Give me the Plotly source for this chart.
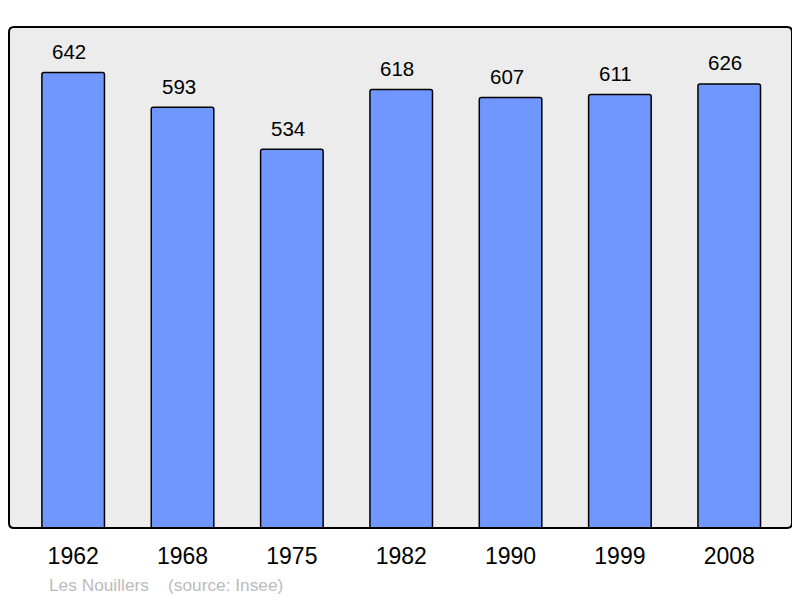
import plotly.graph_objects as go

years = ["1962", "1968", "1975", "1982", "1990", "1999", "2008"]
population = [642, 593, 534, 618, 607, 611, 626]
footer_text = "Les Nouillers    (source: Insee)"

# page body has an 8px margin; figure coords = window coords - 8
OFF = 8
W, H = 800 - OFF, 598 - OFF
L, R, T, B = 9 - OFF, 8, 27 - OFF, 70
pw, ph = W - L - R, H - T - B

fig = go.Figure()
fig.add_trace(go.Bar(
    x=list(range(len(years))), y=population, width=0.572,
    marker=dict(color="#7096ff", line=dict(color="black", width=1.5), cornerradius=2),
    hovertext=years, hoverinfo="text+y",
))

for i, v in enumerate(population):
    fig.add_annotation(x=i, y=v, xref="x", yref="y", text=str(v), showarrow=False,
                       yanchor="middle", yshift=21, xshift=-4,
                       font=dict(family="Liberation Sans, Arial", size=20.5, color="black"))

fig.add_annotation(xref="paper", yref="paper", x=(47 - OFF - L) / pw,
                   y=(T + ph - (585 - OFF)) / ph,
                   xanchor="left", yanchor="middle", showarrow=False, text=footer_text,
                   font=dict(family="Liberation Sans, Arial", size=17.3, color="#bbbbbb"))

r = 5
rx, ry = r / pw, r / ph
path = (f"M {rx},0 L {1-rx},0 Q 1,0 1,{ry} L 1,{1-ry} Q 1,1 {1-rx},1 "
        f"L {rx},1 Q 0,1 0,{1-ry} L 0,{ry} Q 0,0 {rx},0 Z")
fig.add_shape(type="path", xref="paper", yref="paper", path=path,
              line=dict(color="black", width=2), layer="above")

fig.update_layout(
    width=W, height=H,
    margin=dict(l=L, r=R, t=T, b=B),
    paper_bgcolor="white", plot_bgcolor="#ececec",
    showlegend=False,
    font=dict(family="Liberation Sans, Arial", color="black"),
    xaxis=dict(range=[-0.587, 6.574], showgrid=False, zeroline=False, ticks="",
               tickmode="array", tickvals=list(range(len(years))), ticktext=years,
               tickfont=dict(size=23), ticklabelstandoff=12, fixedrange=True),
    yaxis=dict(range=[0, 706.2], showgrid=False, zeroline=False, showticklabels=False,
               ticks="", fixedrange=True),
)

fig.write_html("out.html")
